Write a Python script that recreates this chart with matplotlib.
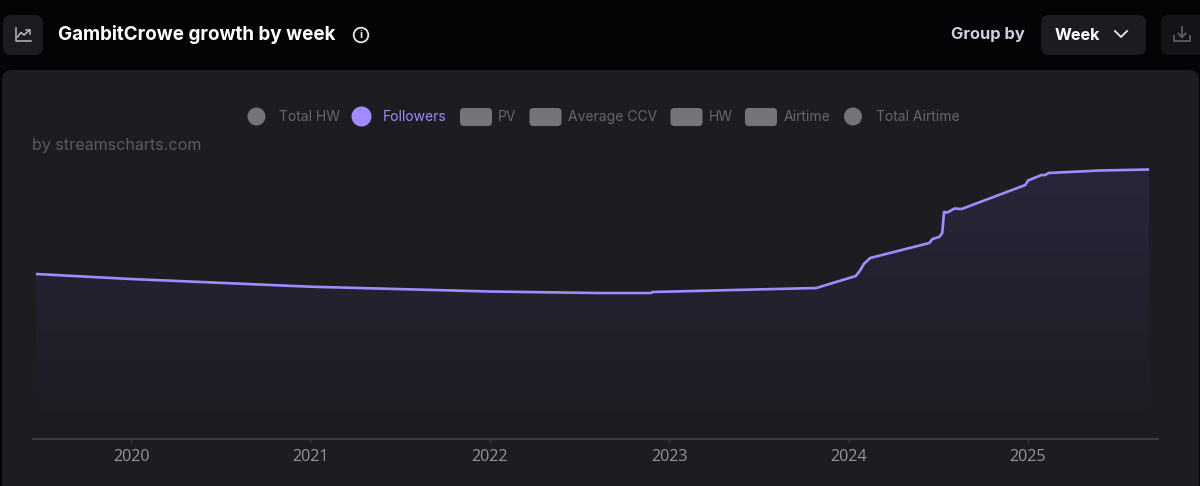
import matplotlib
matplotlib.use("Agg")
import matplotlib.pyplot as plt
from matplotlib.patches import FancyBboxPatch, Circle, Polygon
from matplotlib.lines import Line2D
import numpy as np

W, H = 1200, 486

# data
weeks = [2019.47, 2020.0, 2021.0, 2022.0, 2022.6, 2022.9, 2022.906, 2023.82, 2024.04, 2024.06, 2024.085, 2024.12,
         2024.45, 2024.467, 2024.505, 2024.522, 2024.532, 2024.55, 2024.59, 2024.63, 2024.985, 2025.0,
         2025.075, 2025.097, 2025.114, 2025.4, 2025.675]
followers = [165, 160, 152.3, 147.5, 146, 146, 147, 151, 163, 167.5, 175, 181,
             196, 200, 202, 206, 227, 226.5, 230.5, 230, 254, 258.5,
             264, 264, 266, 268.5, 269.5]
year_ticks = [2020, 2021, 2022, 2023, 2024, 2025]
legend_names = ["Total HW", "Followers", "PV", "Average CCV", "HW", "Airtime", "Total Airtime"]
legend_shapes = ["circle", "circle", "pill", "pill", "pill", "pill", "circle"]

BG = "#040407"
PANEL = "#1c1c21"
BTN = "#1b1b20"
PURPLE = "#a18cff"
FONT = "Inter"
plt.rcParams["font.family"] = [FONT, "DejaVu Sans"]

fig = plt.figure(figsize=(W / 100, H / 100), dpi=100, facecolor=BG)

# pixel-space layer
bgax = fig.add_axes([0, 0, 1, 1], zorder=0)
bgax.set_xlim(0, W); bgax.set_ylim(H, 0); bgax.axis("off")

def rbox(x, y, w, h, r, fc):
    bgax.add_patch(FancyBboxPatch((x + r, y + r), w - 2 * r, h - 2 * r,
                                  boxstyle=f"round,pad={r},rounding_size={r}", fc=fc, ec="none"))

rbox(2, 70, 1197, 440, 10, PANEL)
rbox(3, 15, 40, 40, 8, BTN)
rbox(1041, 15, 105, 40, 8, BTN)
rbox(1161, 15, 60, 40, 8, "#141418")

# chart icon
bgax.add_line(Line2D([16, 16, 30.5], [28, 41.5, 41.5], color="#b9b9c0", lw=1.1))
bgax.add_line(Line2D([17.5, 21, 24, 29.5], [37, 32.5, 35, 30], color="#b9b9c0", lw=1.1))
bgax.add_line(Line2D([26, 30, 30], [30, 30, 34], color="#b9b9c0", lw=1.1))

bgax.text(58, 35, "GambitCrowe growth by week", color="white", fontsize=13.55, fontweight="bold", va="center", ha="left")
# info icon
bgax.add_patch(Circle((361, 35), 7.3, fc="none", ec="#e8e8ee", lw=1.3))
bgax.text(361, 35, "i", color="#e8e8ee", fontsize=8, fontweight="bold", ha="center", va="center")

bgax.text(951, 35, "Group by", color="#cfcfe0", fontsize=11.85, fontweight="bold", va="center", ha="left")
bgax.text(1055, 35, "Week", color="white", fontsize=11.7, fontweight="bold", va="center", ha="left")
bgax.add_line(Line2D([1115, 1121, 1127], [31, 37, 31], color="#e8e8ee", lw=1.3))
# download icon
c = "#5d5d63"
bgax.add_line(Line2D([1174, 1174, 1190, 1190], [36, 41.5, 41.5, 36], color=c, lw=1.3))
bgax.add_line(Line2D([1182, 1182], [27, 37], color=c, lw=1.3))
bgax.add_line(Line2D([1178.5, 1182, 1185.5], [33.5, 37.5, 33.5], color=c, lw=1.3))

# legend
GREY = "#74747b"
LEG_TXT = "#66666c"
marker_x = [256.5, 361.5, 476, 545.5, 686.5, 761, 853]
label_x = [279, 383, 498, 568, 709, 784, 876]
for name, shape, mx, lx in zip(legend_names, legend_shapes, marker_x, label_x):
    on = name == "Followers"
    if shape == "circle":
        bgax.add_patch(Circle((mx, 116.5), 10 if on else 9, fc=PURPLE if on else GREY, ec="none"))
    else:
        rbox(mx - 16, 108, 32, 18, 4, GREY)
    bgax.text(lx, 116.5, name, color=PURPLE if on else LEG_TXT, fontsize=10, va="center", ha="left")

bgax.text(32, 145, "by streamscharts.com", color="#5b5b61", fontsize=11.55, va="center", ha="left")

# chart axes: x 33..1158 px, y 150..439 px; 2020 at 131 px, 179.4 px per year
px_l, px_r, px_t, px_b = 33, 1158, 150, 439
ax = fig.add_axes([px_l / W, 1 - px_b / H, (px_r - px_l) / W, (px_b - px_t) / H], zorder=1)
ax.patch.set_alpha(0)
ax.set_xlim(2020 + (px_l - 131) / 179.4, 2020 + (px_r - 131) / 179.4)
ax.set_ylim(0, px_b - px_t)

x = np.array(weeks); y = np.array(followers)
top = y.max()
grad = np.linspace(0, 1, 256).reshape(-1, 1)
c_top = np.array([0x29, 0x26, 0x3a]) / 255
c_bot = np.array([0x1c, 0x1c, 0x21]) / 255
img = c_top * (1 - grad[..., None]) + c_bot * grad[..., None]
im = ax.imshow(img, extent=[x[0], x[-1], 0, top], aspect="auto", origin="upper", zorder=1)
ax.set_xlim(2020 + (px_l - 131) / 179.4, 2020 + (px_r - 131) / 179.4)
ax.set_ylim(0, px_b - px_t)
poly = Polygon(np.column_stack([np.r_[x, x[-1], x[0]], np.r_[y, 0, 0]]), transform=ax.transData, fc="none", ec="none")
ax.add_patch(poly)
im.set_clip_path(poly)
ax.plot(x, y, color=PURPLE, lw=1.9, zorder=3, solid_joinstyle="round", solid_capstyle="butt")

for s in ["top", "left", "right"]:
    ax.spines[s].set_visible(False)
ax.spines["bottom"].set_color("#3c3c41")
ax.spines["bottom"].set_linewidth(1.5)
ax.set_yticks([])
ax.set_xticks(year_ticks)
ax.set_xticklabels([str(t) for t in year_ticks], fontfamily=["Open Sans", "DejaVu Sans"])
ax.tick_params(axis="x", colors="#3c3c41", length=3, width=0.8, pad=4.5, labelsize=11.6, labelcolor="#95959a")

fig.savefig("out.png", dpi=100, facecolor=BG)
